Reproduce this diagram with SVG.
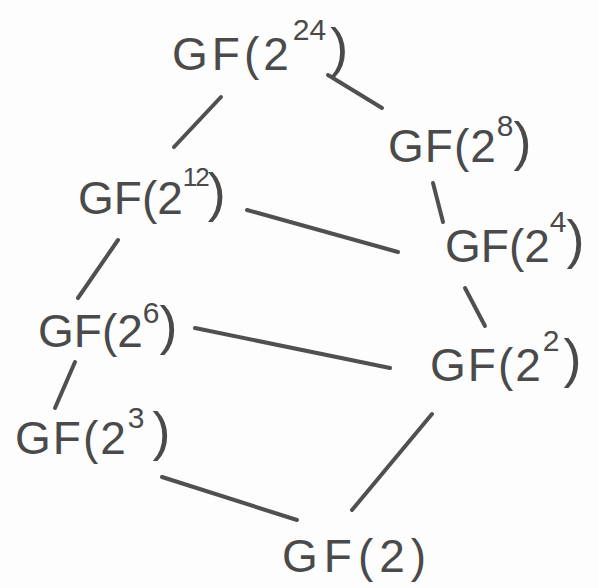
<svg xmlns="http://www.w3.org/2000/svg" width="598" height="588" viewBox="0 0 598 588">
<style>
.lbl{font-family:"Liberation Sans","DejaVu Sans",sans-serif;font-size:46px;fill:#4a4a4a;letter-spacing:2px}
.sup{font-size:30px;letter-spacing:0}
.par{font-size:54px}
.edge{stroke:#505050;stroke-width:4;stroke-linecap:round;fill:none}
</style>
<rect width="598" height="588" fill="#fdfdfd"/>
<g id="connectors">
<line class="edge" x1="221" y1="97" x2="174" y2="147"/>
<line class="edge" x1="328" y1="75" x2="382" y2="108"/>
<line class="edge" x1="433" y1="183" x2="443" y2="222"/>
<line class="edge" x1="247" y1="210" x2="398" y2="252"/>
<line class="edge" x1="118" y1="240" x2="78" y2="298"/>
<line class="edge" x1="465" y1="288" x2="485" y2="326"/>
<line class="edge" x1="195" y1="328" x2="390" y2="368"/>
<line class="edge" x1="75" y1="362" x2="55" y2="408"/>
<line class="edge" x1="162" y1="477" x2="297" y2="520"/>
<line class="edge" x1="432" y1="414" x2="352" y2="510"/>
</g>
<g id="n24"><text class="lbl" x="172" y="70" style="letter-spacing:4px">GF(2<tspan class="sup" dy="-30">24</tspan><tspan class="par" dx="4" dy="26">)</tspan></text></g>
<g id="n8"><text class="lbl" x="388" y="162" style="letter-spacing:1px">GF(2<tspan class="sup" dy="-26">8</tspan><tspan class="par" dx="0" dy="24">)</tspan></text></g>
<g id="n12"><text class="lbl" x="78" y="214" style="letter-spacing:0">GF(2<tspan class="sup" dy="-28" style="font-size:26px;letter-spacing:-2px">12</tspan><tspan class="par" dx="0" dy="25">)</tspan></text></g>
<g id="n4"><text class="lbl" x="445" y="262" style="letter-spacing:0">GF(2<tspan class="sup" dy="-30">4</tspan><tspan class="par" dx="0" dy="26">)</tspan></text></g>
<g id="n6"><text class="lbl" x="38" y="347" style="letter-spacing:0">GF(2<tspan class="sup" dy="-24">6</tspan><tspan class="par" dx="0" dy="21">)</tspan></text></g>
<g id="n2sq"><text class="lbl" x="430" y="381">GF(2<tspan class="sup" dy="-30">2</tspan><tspan class="par" dx="4" dy="26">)</tspan></text></g>
<g id="n3"><text class="lbl" x="15" y="454">GF(2<tspan class="sup" dy="-26">3</tspan><tspan class="par" dx="8" dy="22">)</tspan></text></g>
<g id="n1"><text class="lbl" x="282" y="572" style="letter-spacing:6px">GF(2)</text></g>
</svg>
